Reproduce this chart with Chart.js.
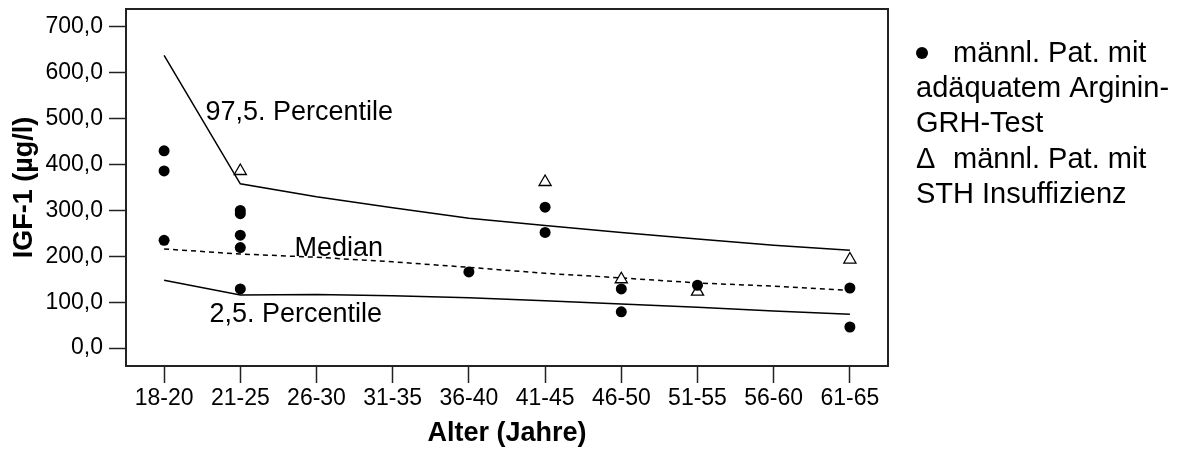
<!DOCTYPE html>
<html>
<head>
<meta charset="utf-8">
<script src="https://cdn.jsdelivr.net/npm/chart.js@4.4.0/dist/chart.umd.min.js"></script>
<style>
  html, body { margin: 0; padding: 0; background: #fff; }
</style>
</head>
<body>
<canvas id="chart" width="1179" height="450"></canvas>
<script>
// age groups on the x axis
const ageGroups = ['18-20', '21-25', '26-30', '31-35', '36-40', '41-45', '46-50', '51-55', '56-60', '61-65'];
const yTicks = [0, 100, 200, 300, 400, 500, 600, 700];

// reference curves (IGF-1, µg/l)
const p975 = [638, 358, 330, 306, 283, 267, 252, 238, 224, 213];
const median = [216, 205, 198, 188, 176, 163, 153, 142, 135, 126];
const p25 = [148, 116, 117, 114, 110, 103, 96, 89, 81, 74];

// patients with adequate arginine-GRH test (filled dots)
const adequateAge = ['18-20', '18-20', '18-20', '21-25', '21-25', '21-25', '21-25', '21-25', '36-40', '41-45', '41-45', '46-50', '46-50', '51-55', '61-65', '61-65'];
const adequateIgf = [430, 386, 235, 300, 293, 246, 219, 129, 166, 307, 252, 129, 79, 137, 131, 46];

// patients with STH insufficiency (open triangles)
const deficientAge = ['21-25', '41-45', '46-50', '51-55', '61-65'];
const deficientIgf = [386, 362, 150, 123, 193];

const FONT = "'Liberation Sans', Arial, sans-serif";

const toPoints = (xs, ys) => xs.map((x, i) => ({ x: x, y: ys[i] }));

const framePlugin = {
  id: 'frame',
  beforeDatasetsDraw(chart) {
    const a = chart.chartArea;
    const ctx = chart.ctx;
    ctx.save();
    ctx.strokeStyle = '#222';
    ctx.lineWidth = 2;
    ctx.strokeRect(a.left, a.top, a.right - a.left, a.bottom - a.top);
    ctx.restore();
  }
};

const curveLabels = {
  id: 'curveLabels',
  afterDatasetsDraw(chart) {
    const xs = chart.scales.x, ys = chart.scales.y;
    const ctx = chart.ctx;
    ctx.save();
    ctx.font = '27px ' + FONT;
    ctx.fillStyle = '#000';
    ctx.textAlign = 'left';
    ctx.textBaseline = 'alphabetic';
    ctx.fillText('97,5. Percentile', xs.getPixelForValue(0.542), ys.getPixelForValue(498));
    ctx.fillText('Median', xs.getPixelForValue(1.71), ys.getPixelForValue(200));
    ctx.fillText('2,5. Percentile', xs.getPixelForValue(0.595), ys.getPixelForValue(57));
    ctx.restore();
  }
};

const sideLegend = {
  id: 'sideLegend',
  afterDraw(chart) {
    const ctx = chart.ctx;
    const left = chart.chartArea.right + 28;
    const indent = left + 37;
    const lines = [
      { mark: 'dot', text: 'männl. Pat. mit' },
      { text: 'adäquatem Arginin-' },
      { text: 'GRH-Test' },
      { mark: 'Δ', text: 'männl. Pat. mit' },
      { text: 'STH Insuffizienz' }
    ];
    ctx.save();
    ctx.font = '29px ' + FONT;
    ctx.fillStyle = '#000';
    ctx.textBaseline = 'alphabetic';
    lines.forEach((ln, i) => {
      const y = 62 + i * 35.2;
      if (ln.mark === 'dot') {
        ctx.beginPath();
        ctx.arc(left + 6, y - 9, 6, 0, Math.PI * 2);
        ctx.fill();
        ctx.fillText(ln.text, indent, y);
      } else if (ln.mark) {
        ctx.fillText(ln.mark, left, y);
        ctx.fillText(ln.text, indent, y);
      } else {
        ctx.fillText(ln.text, left, y);
      }
    });
    ctx.restore();
  }
};

new Chart(document.getElementById('chart'), {
  type: 'line',
  data: {
    labels: ageGroups,
    datasets: [
      {
        label: 'männl. Pat. mit adäquatem Arginin-GRH-Test',
        data: toPoints(adequateAge, adequateIgf),
        showLine: false,
        pointStyle: 'circle',
        pointRadius: 5.5,
        pointBackgroundColor: '#000',
        pointBorderWidth: 0
      },
      {
        label: 'männl. Pat. mit STH Insuffizienz',
        data: toPoints(deficientAge, deficientIgf),
        showLine: false,
        pointStyle: 'triangle',
        pointRadius: 7,
        pointBackgroundColor: '#fff',
        pointBorderColor: '#000',
        pointBorderWidth: 1.3
      },
      {
        label: '97,5. Percentile',
        data: p975,
        borderColor: '#000',
        borderWidth: 1.5,
        pointRadius: 0,
        tension: 0
      },
      {
        label: 'Median',
        data: median,
        borderColor: '#000',
        borderWidth: 1.5,
        borderDash: [5, 4],
        pointRadius: 0,
        tension: 0
      },
      {
        label: '2,5. Percentile',
        data: p25,
        borderColor: '#000',
        borderWidth: 1.5,
        pointRadius: 0,
        tension: 0
      }
    ]
  },
  options: {
    responsive: false,
    animation: false,
    layout: { padding: { left: 0, right: 291, top: 9, bottom: 0 } },
    plugins: {
      legend: { display: false },
      tooltip: { enabled: false }
    },
    scales: {
      x: {
        type: 'category',
        offset: true,
        grid: { offset: false, drawOnChartArea: false, drawTicks: true, tickLength: 17, tickColor: '#222', tickWidth: 1.5 },
        border: { display: false },
        ticks: { color: '#000', font: { family: FONT, size: 23 }, padding: 2, maxRotation: 0, autoSkip: false },
        title: { display: true, text: 'Alter (Jahre)', color: '#000', font: { family: FONT, size: 27, weight: 'bold' }, padding: { top: 0, bottom: 0 } },
        afterFit(scale) { scale.height = 84; }
      },
      y: {
        min: -39,
        max: 739,
        afterBuildTicks(scale) { scale.ticks = yTicks.map(v => ({ value: v })); },
        grid: { drawOnChartArea: false, drawTicks: true, tickLength: 17, tickColor: '#222', tickWidth: 1.5 },
        border: { display: false },
        ticks: {
          color: '#000',
          font: { family: FONT, size: 23 },
          padding: 6,
          callback: v => v.toFixed(1).replace('.', ',')
        },
        title: { display: true, text: 'IGF-1 (µg/l)', color: '#000', font: { family: FONT, size: 27, weight: 'bold' }, padding: { top: 8, bottom: 0 } },
        afterFit(scale) {
          scale.width = 126;
          scale.paddingTop = 0;
          scale.paddingBottom = 0;
        }
      }
    }
  },
  plugins: [framePlugin, curveLabels, sideLegend]
});
</script>
</body>
</html>
